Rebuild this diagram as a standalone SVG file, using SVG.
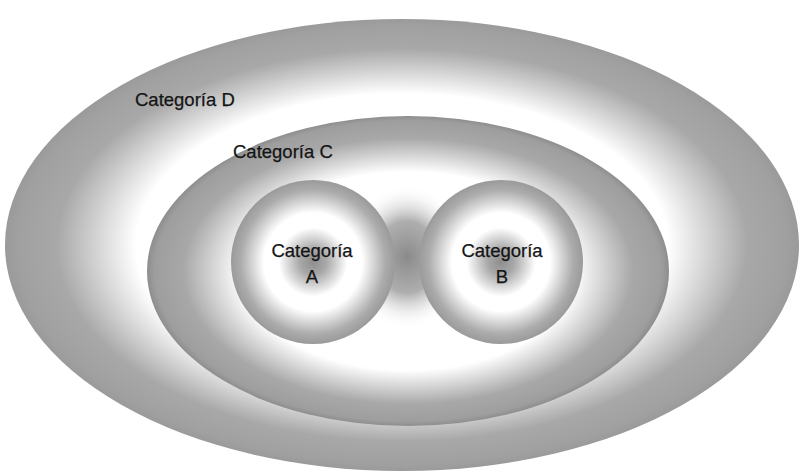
<svg xmlns="http://www.w3.org/2000/svg" width="801" height="473" viewBox="0 0 801 473">
<style>
.lbl{font-family:"Liberation Sans","Open Sans",Arial,sans-serif;font-size:18.5px;fill:#141414;stroke:#141414;stroke-width:0.25}
</style>
<defs>
<radialGradient id="gD" cx="0.5" cy="0.5" r="0.5">
<stop offset="0" stop-color="#ffffff"/>
<stop offset="0.67" stop-color="#ffffff"/>
<stop offset="0.87" stop-color="#a8a8a8"/>
<stop offset="0.97" stop-color="#a0a0a0"/>
<stop offset="1" stop-color="#9a9a9a"/>
</radialGradient>
<radialGradient id="gC" cx="0.5" cy="0.5" r="0.5">
<stop offset="0" stop-color="#ffffff"/>
<stop offset="0.64" stop-color="#ffffff"/>
<stop offset="0.86" stop-color="#a8a8a8"/>
<stop offset="0.97" stop-color="#9e9e9e"/>
<stop offset="1" stop-color="#8e8e8e"/>
</radialGradient>
<radialGradient id="gBlob" cx="0.5" cy="0.5" r="0.5">
<stop offset="0" stop-color="#8a8a8a" stop-opacity="1"/>
<stop offset="0.5" stop-color="#9a9a9a" stop-opacity="0.8"/>
<stop offset="1" stop-color="#ffffff" stop-opacity="0"/>
</radialGradient>
<radialGradient id="gAB" cx="0.5" cy="0.5" r="0.5">
<stop offset="0" stop-color="#8e8e8e"/>
<stop offset="0.16" stop-color="#a8a8a8"/>
<stop offset="0.42" stop-color="#ffffff"/>
<stop offset="0.6" stop-color="#ffffff"/>
<stop offset="0.88" stop-color="#acacac"/>
<stop offset="1" stop-color="#9a9a9a"/>
</radialGradient>
</defs>
<rect width="801" height="473" fill="#ffffff"/>
<g id="catD">
<ellipse cx="402" cy="245" rx="397" ry="226" fill="url(#gD)"/>
<text class="lbl" x="135" y="106">Categoría D</text>
</g>
<g id="catC">
<ellipse cx="408" cy="271" rx="261" ry="155" fill="url(#gC)"/>
<ellipse cx="407" cy="257" rx="60" ry="72" fill="url(#gBlob)"/>
<text class="lbl" x="233" y="158">Categoría C</text>
</g>
<g id="catA">
<circle cx="313" cy="262" r="82" fill="url(#gAB)"/>
<text class="lbl" x="312" y="257" text-anchor="middle">Categoría</text>
<text class="lbl" x="312" y="283" text-anchor="middle">A</text>
</g>
<g id="catB">
<circle cx="501" cy="262" r="82" fill="url(#gAB)"/>
<text class="lbl" x="502" y="257" text-anchor="middle">Categoría</text>
<text class="lbl" x="502" y="283" text-anchor="middle">B</text>
</g>
<g id="connectors"/>
</svg>
